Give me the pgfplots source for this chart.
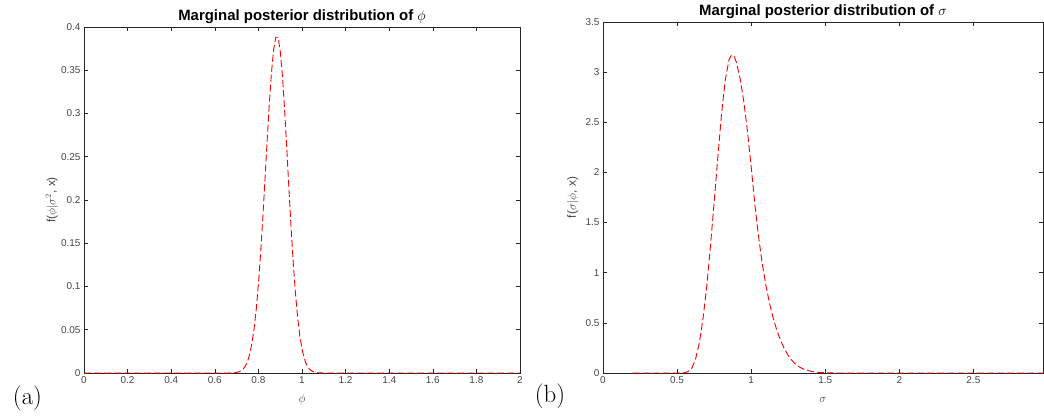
\documentclass[border=0pt]{standalone}
\usepackage{pgfplots}
\pgfplotsset{compat=1.18}
\usepackage{fontspec}
\setsansfont{Liberation Sans}

\definecolor{axisgray}{rgb}{0.15,0.15,0.15}
\definecolor{ticktext}{rgb}{0.27,0.27,0.27}

% marginal posterior of phi on a 0.01 grid (zero elsewhere)
\pgfplotstableread{
x y
0.00 0
0.30 0
0.60 0
0.67 0
0.68 0.0002
0.69 0.0003
0.70 0.0007
0.71 0.0014
0.72 0.0025
0.73 0.0046
0.74 0.0080
0.75 0.0134
0.76 0.0217
0.77 0.0338
0.78 0.0508
0.79 0.0735
0.80 0.1025
0.81 0.1378
0.82 0.1785
0.83 0.2229
0.84 0.2682
0.85 0.3110
0.86 0.3475
0.87 0.3741
0.88 0.3882
0.89 0.3881
0.90 0.3728
0.91 0.3442
0.92 0.3053
0.93 0.2601
0.94 0.2130
0.95 0.1675
0.96 0.1266
0.97 0.0919
0.98 0.0641
0.99 0.0430
1.00 0.0277
1.01 0.0171
1.02 0.0102
1.03 0.0058
1.04 0.0032
1.05 0.0017
1.06 0.0009
1.07 0.0004
1.08 0.0002
1.09 0.0001
1.10 0
1.50 0
2.00 0
}\phidata

% marginal posterior of sigma
\pgfplotstableread{
x y
0.20 0
0.50 0
0.55 0.003
0.575 0.015
0.60 0.05
0.625 0.14
0.65 0.30
0.675 0.54
0.70 0.86
0.725 1.26
0.75 1.70
0.775 2.15
0.80 2.58
0.825 2.92
0.85 3.12
0.8625 3.16
0.875 3.17
0.8875 3.15
0.90 3.10
0.925 2.94
0.95 2.71
0.975 2.41
1.00 2.06
1.025 1.68
1.05 1.36
1.075 1.09
1.10 0.87
1.125 0.69
1.15 0.54
1.175 0.42
1.20 0.32
1.225 0.24
1.25 0.175
1.275 0.125
1.30 0.088
1.325 0.060
1.35 0.041
1.40 0.018
1.45 0.007
1.50 0.002
1.55 0.0005
1.60 0
2.30 0
2.97 0
}\sigmadata

\pgfplotsset{
  postfig/.style={
    scale only axis,
    clip=false,
    axis line style={draw=axisgray, line width=0.8bp},
    tick style={draw=axisgray, line width=0.6bp},
    tick align=inside,
    major tick length=4bp,
    minor tick num=0,
    font=\sffamily,
    tick label style={font=\sffamily\fontsize{10}{11}\selectfont, text=ticktext},
    /pgf/number format/assume math mode=true,
    /pgf/number format/fixed,
    /pgf/number format/precision=2,
    scaled x ticks=false,
    scaled y ticks=false,
    every axis title shift=0pt,
    title style={font=\sffamily\bfseries\fontsize{15}{16}\selectfont,
      at={(axis description cs:0.5,1)}, anchor=base},
    ylabel style={anchor=south, font=\sffamily\fontsize{12}{13}\selectfont, text=ticktext},
    xlabel style={anchor=center, font=\sffamily\fontsize{13}{14}\selectfont, text=ticktext},
  },
  curve/.style={red, line width=0.9bp, dash pattern=on 7bp off 3bp},
}

\begin{document}
\begin{tikzpicture}
\useasboundingbox (0,0) rectangle (1044bp,418bp);

\begin{axis}[postfig,
  at={(84bp,45bp)}, anchor=south west,
  width=436bp, height=346bp,
  xmin=0, xmax=2, ymin=0, ymax=0.4,
  xtick={0,0.2,0.4,0.6,0.8,1,1.2,1.4,1.6,1.8,2},
  ytick={0,0.05,0.1,0.15,0.2,0.25,0.3,0.35,0.4},
  title={Marginal posterior distribution of $\phi$},
  title style={yshift=6bp},
  xlabel={$\phi$},
  xlabel style={at={(axis description cs:0.5,-0.078)}},
  ylabel={f($\phi|\sigma^2$, x)},
  ylabel style={at={(axis description cs:-0.051,0.5)}},
]
\addplot[curve] table[x=x,y=y] {\phidata};
\end{axis}

\begin{axis}[postfig,
  at={(603bp,45bp)}, anchor=south west,
  width=440bp, height=351bp,
  xmin=0, xmax=2.97, ymin=0, ymax=3.5,
  xtick={0,0.5,1,1.5,2,2.5},
  ytick={0,0.5,1,1.5,2,2.5,3,3.5},
  title={Marginal posterior distribution of $\sigma$},
  title style={yshift=6bp},
  xlabel={$\sigma$},
  xlabel style={at={(axis description cs:0.5,-0.0755)}},
  ylabel={f($\sigma|\phi$, x)},
  ylabel style={at={(axis description cs:-0.047,0.5)}},
]
\addplot[curve] table[x=x,y=y] {\sigmadata};
\end{axis}

\node[font=\fontsize{25}{26}\selectfont] at (27.5bp,19.5bp) {(a)};
\node[font=\fontsize{25}{26}\selectfont] at (550bp,22bp) {(b)};
\end{tikzpicture}
\end{document}
